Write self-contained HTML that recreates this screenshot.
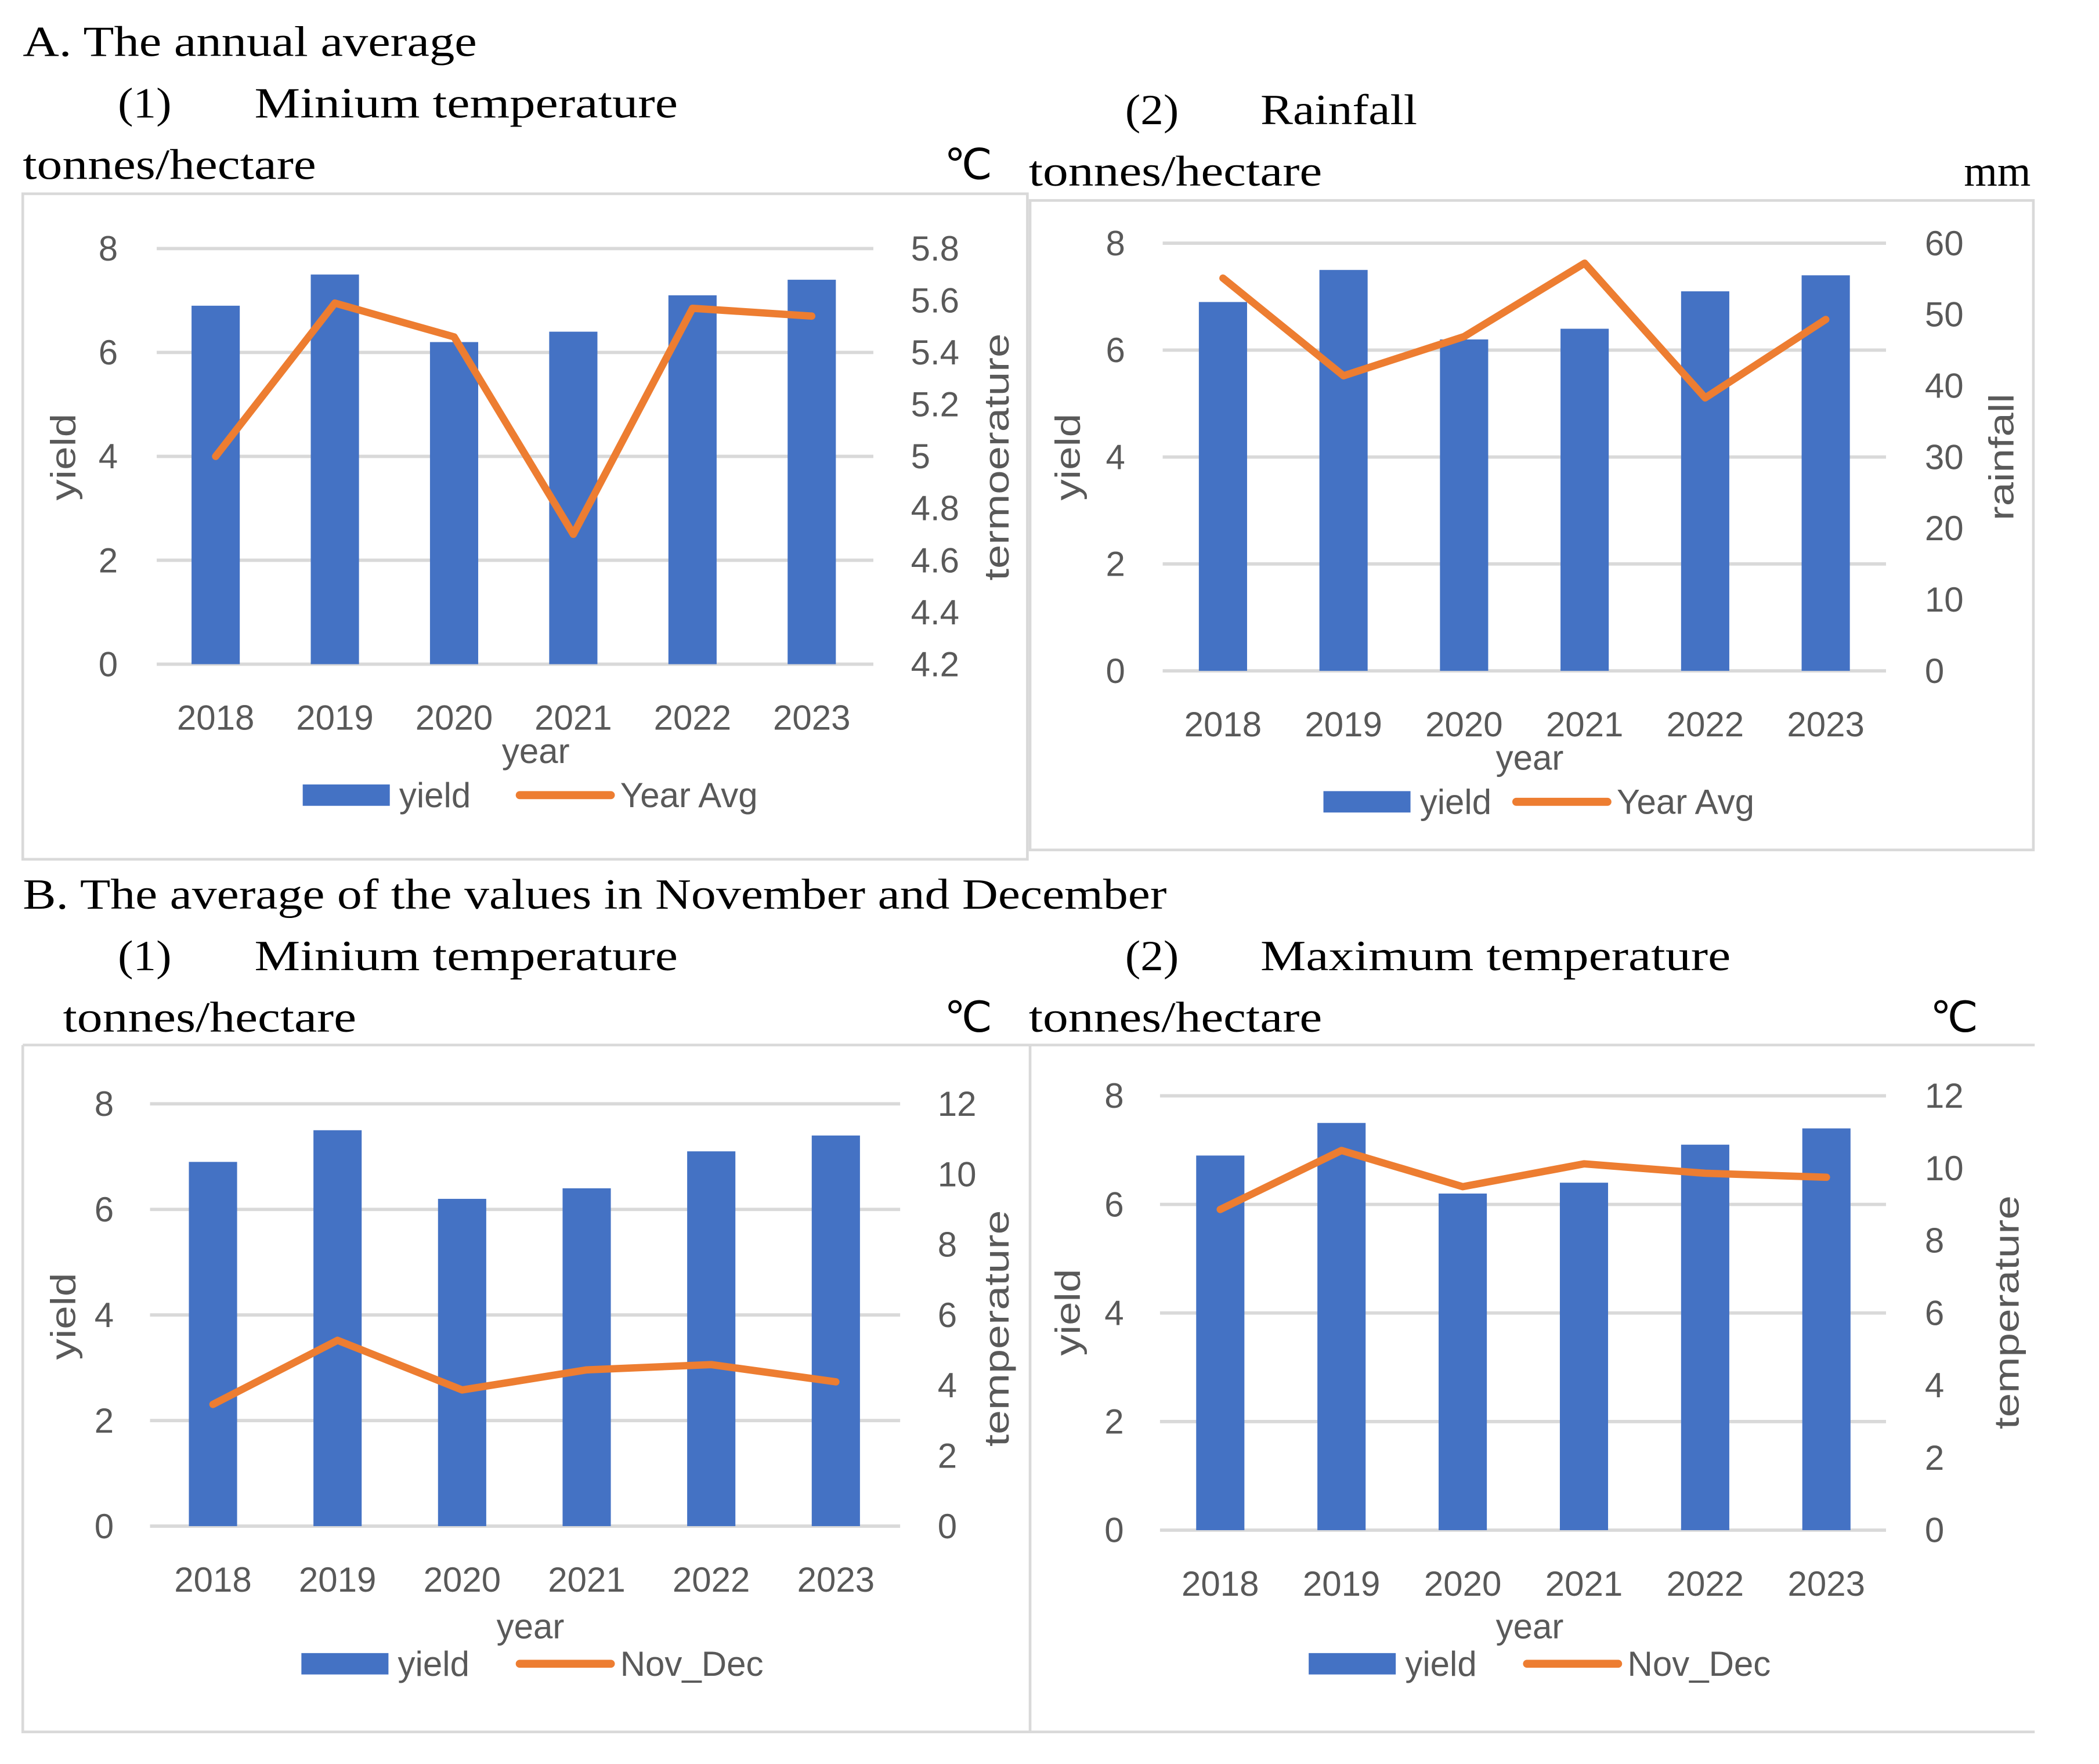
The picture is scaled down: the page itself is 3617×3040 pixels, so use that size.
<!DOCTYPE html>
<html><head><meta charset="utf-8"><style>
html,body{margin:0;padding:0;background:#fff;}
svg{display:block;}
.ser{font-family:"Liberation Serif",serif;font-size:32px;fill:#000;}
.san{font-family:"Liberation Sans",sans-serif;font-size:26px;fill:#595959;}
</style></head><body>
<svg id="root" width="3617" height="3040" viewBox="0 0 1567 1320" preserveAspectRatio="none" xmlns="http://www.w3.org/2000/svg">
<text class="ser" x="17" y="42" textLength="339" lengthAdjust="spacingAndGlyphs">A. The annual average</text>
<text class="ser" x="88" y="88" textLength="40" lengthAdjust="spacingAndGlyphs">(1)</text>
<text class="ser" x="190" y="88" textLength="316" lengthAdjust="spacingAndGlyphs">Minium temperature</text>
<text class="ser" x="17" y="134" textLength="219" lengthAdjust="spacingAndGlyphs">tonnes/hectare</text>
<text class="ser" x="705" y="134">℃</text>
<text class="ser" x="840" y="93" textLength="40" lengthAdjust="spacingAndGlyphs">(2)</text>
<text class="ser" x="941" y="93" textLength="117" lengthAdjust="spacingAndGlyphs">Rainfall</text>
<text class="ser" x="768" y="139" textLength="219" lengthAdjust="spacingAndGlyphs">tonnes/hectare</text>
<text class="ser" x="1516" y="139" text-anchor="end">mm</text>
<text class="ser" x="17" y="680" textLength="854" lengthAdjust="spacingAndGlyphs">B. The average of the values in November and December</text>
<text class="ser" x="88" y="726" textLength="40" lengthAdjust="spacingAndGlyphs">(1)</text>
<text class="ser" x="190" y="726" textLength="316" lengthAdjust="spacingAndGlyphs">Minium temperature</text>
<text class="ser" x="47" y="772" textLength="219" lengthAdjust="spacingAndGlyphs">tonnes/hectare</text>
<text class="ser" x="705" y="772">℃</text>
<text class="ser" x="840" y="726" textLength="40" lengthAdjust="spacingAndGlyphs">(2)</text>
<text class="ser" x="941" y="726" textLength="351" lengthAdjust="spacingAndGlyphs">Maximum temperature</text>
<text class="ser" x="768" y="772" textLength="219" lengthAdjust="spacingAndGlyphs">tonnes/hectare</text>
<text class="ser" x="1441" y="772">℃</text>
<rect x="17" y="145" width="750" height="498" fill="none" stroke="#d9d9d9" stroke-width="2"/>
<rect x="769" y="150" width="749" height="486" fill="none" stroke="#d9d9d9" stroke-width="2"/>
<path d="M17 782 H1519 M17 782 V1296 H1519 M769 782 V1296" fill="none" stroke="#d9d9d9" stroke-width="2"/>
</svg>
<script>
const years = ["2018","2019","2020","2021","2022","2023"];
const yieldValues = [6.9, 7.5, 6.2, 6.4, 7.1, 7.4];
const yieldTicks = [0, 2, 4, 6, 8];
const a1Temp = [5.0, 5.59, 5.46, 4.70, 5.57, 5.54];
const a1Ticks = ["4.2","4.4","4.6","4.8","5","5.2","5.4","5.6","5.8"];
const a2Rain = [55.1, 41.4, 46.9, 57.2, 38.3, 49.3];
const a2Ticks = ["0","10","20","30","40","50","60"];
const b1Temp = [3.46, 5.28, 3.87, 4.44, 4.59, 4.1];
const b2Temp = [8.86, 10.49, 9.49, 10.12, 9.86, 9.75];
const bTicks = ["0","2","4","6","8","10","12"];

const NS = "http://www.w3.org/2000/svg";
const root = document.getElementById("root");
function mk(tag, attrs, text){
  const e = document.createElementNS(NS, tag);
  for (const k in attrs) e.setAttribute(k, attrs[k]);
  if (text !== undefined) e.textContent = text;
  root.appendChild(e);
  return e;
}
function chart(p){
  const yL = v => p.y0 - (v/8)*(p.y0-p.y1);
  const rMin = parseFloat(p.rTicks[0]), rMax = parseFloat(p.rTicks[p.rTicks.length-1]);
  const yR = v => p.y0 - (v-rMin)/(rMax-rMin)*(p.y0-p.y1);
  const xC = i => p.xa + p.step*i;
  yieldTicks.forEach(t=>{
    const g = mk("line",{x1:p.gx0,x2:p.gx1,y1:yL(t),y2:yL(t),stroke:"#d9d9d9","stroke-width":2.5});
    
    
    const l = mk("text",{class:"san",x:p.lx,y:yL(t)+9,"text-anchor":"end"},String(t));
    
    
  });
  p.rTicks.forEach(t=>{
    const l = mk("text",{class:"san",x:p.rx,y:yR(parseFloat(t))+9},t);
    
    
  });
  yieldValues.forEach((v,i)=>{
    const b = mk("rect",{x:xC(i)-18,y:yL(v),width:36,height:p.y0-yL(v),fill:"#4472C4"});
    
    
    const l = mk("text",{class:"san",x:xC(i),y:p.xly,"text-anchor":"middle"},years[i]);
    
    
  });
  const pts = p.line.map((v,i)=>xC(i)+","+yR(v)).join(" ");
  const pl = mk("polyline",{points:pts,fill:"none",stroke:"#ED7D31","stroke-width":5.5,"stroke-linejoin":"round","stroke-linecap":"round"});
  
  
  const xt = mk("text",{class:"san",x:p.yearX,y:p.yearY,"text-anchor":"middle"},"year");
  
  
  const ly = mk("text",{class:"san",transform:`translate(${p.ylx},${p.ylMid}) rotate(-90)`,"text-anchor":"middle",textLength:65,lengthAdjust:"spacingAndGlyphs"},"yield");
  
  
  const ry = mk("text",{class:"san",transform:`translate(${p.yrx},${p.yrMid}) rotate(-90)`,"text-anchor":"middle",textLength:p.rLen,lengthAdjust:"spacingAndGlyphs"},p.rTitle);
  
  
  const lr = mk("rect",{x:p.lg[0],y:p.lgY-8,width:65,height:16,fill:"#4472C4"});
  
  
  const lt = mk("text",{class:"san",x:p.lg[0]+72,y:p.lgY+9},"yield");
  
  
  const ll = mk("line",{x1:p.lg[1],x2:p.lg[1]+68,y1:p.lgY,y2:p.lgY,stroke:"#ED7D31","stroke-width":6,"stroke-linecap":"round"});
  
  
  const l2 = mk("text",{class:"san",x:p.lg[1]+75,y:p.lgY+9},p.lname);
  
  
}
chart({id:"a1",y0:497,y1:186,xa:161,step:89,gx0:117,gx1:652,lx:88,rx:680,xly:546,yearX:400,yearY:571,ylx:56,ylMid:342,yrx:753,yrMid:342,rLen:185,rTicks:a1Ticks,line:a1Temp,rTitle:"termoerature",lg:[226,388],lgY:595,lname:"Year Avg"});
chart({id:"a2",y0:502,y1:182,xa:913,step:90,gx0:868,gx1:1408,lx:840,rx:1437,xly:551,yearX:1142,yearY:576,ylx:806,ylMid:342,yrx:1503,yrMid:342,rLen:95,rTicks:a2Ticks,line:a2Rain,rTitle:"rainfall",lg:[988,1132],lgY:600,lname:"Year Avg"});
chart({id:"b1",y0:1142,y1:826,xa:159,step:93,gx0:112,gx1:672,lx:85,rx:700,xly:1191,yearX:396,yearY:1226,ylx:56,ylMid:985,yrx:753,yrMid:994,rLen:177,rTicks:bTicks,line:b1Temp,rTitle:"temperature",lg:[225,388],lgY:1245,lname:"Nov_Dec"});
chart({id:"b2",y0:1145,y1:820,xa:911,step:90.5,gx0:866,gx1:1408,lx:839,rx:1437,xly:1194,yearX:1142,yearY:1226,ylx:806,ylMid:982,yrx:1507,yrMid:982,rLen:175,rTicks:bTicks,line:b2Temp,rTitle:"temperature",lg:[977,1140],lgY:1245,lname:"Nov_Dec"});
</script>
</body></html>
